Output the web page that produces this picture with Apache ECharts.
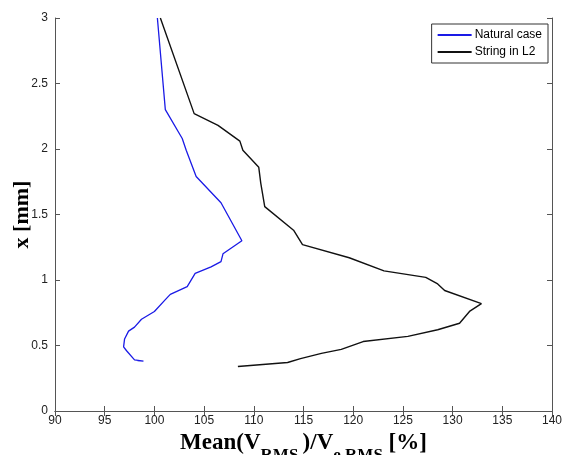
<!DOCTYPE html>
<html>
<head>
<meta charset="utf-8">
<script src="https://cdn.jsdelivr.net/npm/echarts@6/dist/echarts.min.js"></script>
<style>
  html, body { margin: 0; padding: 0; background: #fff; }
  #main { width: 562px; height: 455px; }
</style>
</head>
<body>
<div id="main"></div>
<script>
// Natural case (blue)
const naturalX = [100.3, 101.1, 102.8, 103.2, 104.2, 106.7, 108.8, 106.9, 106.7, 105.7, 104.1, 103.3, 101.6, 101.1, 100.0, 98.7, 98.0, 97.4, 97.0, 96.9, 97.2, 98.0, 98.2, 98.9, 98.3];
const naturalY = [3.0, 2.30, 2.08, 1.99, 1.79, 1.59, 1.30, 1.20, 1.14, 1.10, 1.05, 0.95, 0.89, 0.85, 0.76, 0.70, 0.64, 0.61, 0.55, 0.49, 0.46, 0.39, 0.38, 0.38, 0.385];
// String in L2 (black)
const stringX = [100.6, 104.0, 106.4, 108.6, 108.9, 110.5, 110.7, 111.1, 114.0, 114.9, 119.6, 123.1, 127.3, 128.5, 129.2, 132.9, 131.7, 130.7, 128.5, 125.5, 121.0, 118.8, 116.8, 114.7, 113.4, 108.4];
const stringY = [3.0, 2.27, 2.18, 2.06, 1.99, 1.86, 1.74, 1.56, 1.38, 1.27, 1.17, 1.07, 1.02, 0.97, 0.92, 0.82, 0.76, 0.67, 0.62, 0.57, 0.53, 0.47, 0.44, 0.40, 0.37, 0.34];

const xTicks = { min: 90, max: 140, interval: 5 };
const yTicks = { min: 0, max: 3, interval: 0.5 };

function pairs(xs, ys) {
  return xs.map((v, i) => [v, ys[i]]);
}

const axisColor = '#555';
const labelStyle = { fontFamily: 'Arial, "Liberation Sans"', fontSize: 12, color: '#222' };

let myChart = echarts.init(document.getElementById('main'));
let option = {
  animation: false,
  backgroundColor: '#fff',
  grid: { left: 55, right: 10, top: 18, bottom: 44, outerBoundsMode: 'none', containLabel: false },
  legend: {
    orient: 'vertical',
    right: 14,
    top: 24,
    itemWidth: 34,
    itemHeight: 2,
    itemGap: 5,
    padding: [5, 6, 5, 6],
    borderColor: '#333',
    borderWidth: 1,
    backgroundColor: '#fff',
    icon: 'rect',
    textStyle: { fontFamily: 'Arial, "Liberation Sans"', fontSize: 12, color: '#000', padding: [0, 0, 0, -2] },
    data: ['Natural case', 'String in L2']
  },
  xAxis: [
    {
      type: 'value',
      min: xTicks.min, max: xTicks.max, interval: xTicks.interval,
      axisLine: { lineStyle: { color: axisColor } },
      axisTick: { inside: true, length: 5, lineStyle: { color: axisColor } },
      axisLabel: Object.assign({ margin: 4 }, labelStyle),
      splitLine: { show: false },
      name: '{a|Mean(V}{s|RMS }{a|)/V}{s|e RMS}{a| [%]}',
      nameLocation: 'middle',
      nameGap: 21,
      nameMoveOverlap: false,
      nameTextStyle: {
        rich: {
          a: { fontFamily: '"Liberation Serif", "Times New Roman", serif', fontWeight: 'bold', fontSize: 23, color: '#000', verticalAlign: 'top', lineHeight: 26 },
          s: { fontFamily: '"Liberation Serif", "Times New Roman", serif', fontWeight: 'bold', fontSize: 17, color: '#000', verticalAlign: 'top', lineHeight: 20, padding: [15, 0, 0, 0] }
        }
      }
    },
    {
      type: 'value', position: 'top',
      min: xTicks.min, max: xTicks.max, interval: xTicks.interval,
      axisLine: { lineStyle: { color: axisColor } },
      axisTick: { inside: true, length: 5, lineStyle: { color: axisColor } },
      axisLabel: { show: false },
      splitLine: { show: false }
    }
  ],
  yAxis: [
    {
      type: 'value',
      min: yTicks.min, max: yTicks.max, interval: yTicks.interval,
      axisLine: { show: true, lineStyle: { color: axisColor } },
      axisTick: { show: true, inside: true, length: 5, lineStyle: { color: axisColor } },
      axisLabel: Object.assign({ margin: 7 }, labelStyle),
      splitLine: { show: false },
      name: 'x [mm]',
      nameLocation: 'middle',
      nameGap: 22,
      nameMoveOverlap: false,
      nameTextStyle: { fontFamily: '"Liberation Serif", "Times New Roman", serif', fontWeight: 'bold', fontSize: 22, color: '#000' }
    },
    {
      type: 'value', position: 'right',
      min: yTicks.min, max: yTicks.max, interval: yTicks.interval,
      axisLine: { show: true, lineStyle: { color: axisColor } },
      axisTick: { show: true, inside: true, length: 5, lineStyle: { color: axisColor } },
      axisLabel: { show: false },
      splitLine: { show: false }
    }
  ],
  series: [
    {
      name: 'Natural case',
      type: 'line',
      data: pairs(naturalX, naturalY),
      showSymbol: false,
      symbol: 'none',
      color: '#1a1ae6',
      lineStyle: { color: '#1a1ae6', width: 1.3 }
    },
    {
      name: 'String in L2',
      type: 'line',
      data: pairs(stringX, stringY),
      showSymbol: false,
      symbol: 'none',
      color: '#111',
      lineStyle: { color: '#111', width: 1.4 }
    }
  ]
};
myChart.setOption(option);
</script>
</body>
</html>
